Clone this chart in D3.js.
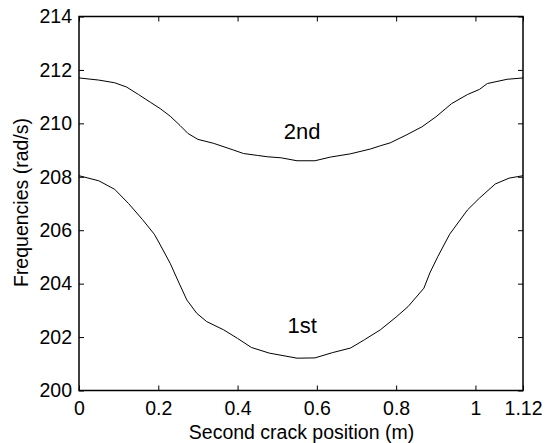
<!DOCTYPE html>
<html>
<head>
<meta charset="utf-8">
<script src="https://cdn.jsdelivr.net/npm/d3@7"></script>
<style>
  body { margin: 0; background: #fff; }
  svg { display: block; font-family: Arial, "Liberation Sans", sans-serif; }
</style>
</head>
<body>
<script>
// data
const xTicks = [0, 0.2, 0.4, 0.6, 0.8, 1, 1.12];
const yTicks = [200, 202, 204, 206, 208, 210, 212, 214];

// 2nd natural frequency vs crack position
const pos2nd = [0, 0.05, 0.09, 0.12, 0.15, 0.18, 0.205, 0.23, 0.255, 0.275, 0.30, 0.34, 0.39, 0.415, 0.45, 0.475, 0.51, 0.55, 0.595, 0.635, 0.685, 0.735, 0.76, 0.785, 0.825, 0.865, 0.90, 0.94, 0.98, 1.01, 1.03, 1.08, 1.12];
const freq2nd = [211.70, 211.62, 211.52, 211.36, 211.08, 210.79, 210.55, 210.27, 209.92, 209.62, 209.40, 209.25, 209.00, 208.87, 208.80, 208.75, 208.71, 208.60, 208.60, 208.74, 208.86, 209.04, 209.16, 209.27, 209.56, 209.87, 210.24, 210.74, 211.08, 211.27, 211.49, 211.65, 211.70];

// 1st natural frequency vs crack position
const pos1st = [0, 0.05, 0.09, 0.125, 0.16, 0.19, 0.205, 0.23, 0.25, 0.272, 0.297, 0.322, 0.365, 0.40, 0.435, 0.48, 0.55, 0.595, 0.64, 0.685, 0.72, 0.76, 0.80, 0.83, 0.87, 0.885, 0.905, 0.935, 0.98, 1.01, 1.05, 1.085, 1.12];
const freq1st = [208.04, 207.85, 207.53, 207.00, 206.40, 205.85, 205.45, 204.76, 204.10, 203.39, 202.89, 202.58, 202.27, 201.95, 201.61, 201.40, 201.21, 201.22, 201.42, 201.59, 201.90, 202.27, 202.75, 203.14, 203.83, 204.40, 205.01, 205.85, 206.76, 207.20, 207.73, 207.95, 208.04];

const curveLabels = [
  { text: "2nd", x: 0.563, y: 209.41 },
  { text: "1st", x: 0.563, y: 202.16 }
];

const W = 546, H = 443;
const margin = { top: 16.5, right: 23, bottom: 52.5, left: 79 };
const iw = W - margin.left - margin.right;
const ih = H - margin.top - margin.bottom;

const svg = d3.select("body").append("svg")
  .attr("width", W)
  .attr("height", H);

const g = svg.append("g")
  .attr("transform", `translate(${margin.left},${margin.top})`);

const x = d3.scaleLinear().domain([0, 1.12]).range([0, iw]);
const y = d3.scaleLinear().domain([200, 214]).range([ih, 0]);

const fontSize = 19.5;

// axes, ticks pointing inward like matlab
const xAxis = d3.axisBottom(x).tickValues(xTicks).tickSize(-5).tickPadding(11)
  .tickFormat(d => d3.format("~g")(d));
const yAxis = d3.axisLeft(y).tickValues(yTicks).tickSize(-5).tickPadding(7)
  .tickFormat(d3.format("d"));

const gx = g.append("g").attr("transform", `translate(0,${ih})`).call(xAxis);
const gy = g.append("g").call(yAxis);

// top and right mirror ticks
g.append("g").call(d3.axisTop(x).tickValues(xTicks).tickSize(-5).tickFormat(""));
g.append("g").attr("transform", `translate(${iw},0)`)
  .call(d3.axisRight(y).tickValues(yTicks).tickSize(-5).tickFormat(""));

g.selectAll(".domain").remove();
g.selectAll(".tick line").attr("stroke", "#000").attr("stroke-width", 1);
[gx, gy].forEach(a => a.selectAll("text")
  .attr("font-size", fontSize)
  .attr("font-family", "Arial, 'Liberation Sans', sans-serif")
  .attr("fill", "#000"));
gx.selectAll("text").attr("dy", "0.71em");

// frame
g.append("rect")
  .attr("width", iw)
  .attr("height", ih)
  .attr("fill", "none")
  .attr("stroke", "#000")
  .attr("stroke-width", 1.5);

// curves
const line = d3.line()
  .x(d => x(d[0]))
  .y(d => y(d[1]));

const series = [d3.zip(pos2nd, freq2nd), d3.zip(pos1st, freq1st)];

g.selectAll("path.curve")
  .data(series)
  .enter()
  .append("path")
  .attr("class", "curve")
  .attr("fill", "none")
  .attr("stroke", "#000")
  .attr("stroke-width", 1)
  .attr("d", line);

g.selectAll("text.curve-label")
  .data(curveLabels)
  .enter()
  .append("text")
  .attr("class", "curve-label")
  .attr("x", d => x(d.x))
  .attr("y", d => y(d.y))
  .attr("text-anchor", "middle")
  .attr("font-size", 22)
  .text(d => d.text);

// axis titles
svg.append("text")
  .attr("x", margin.left + iw / 2 + 0.5)
  .attr("y", 439)
  .attr("text-anchor", "middle")
  .attr("font-size", fontSize)
  .text("Second crack position (m)");

svg.append("text")
  .attr("transform", `translate(28,202.5) rotate(-90)`)
  .attr("text-anchor", "middle")
  .attr("font-size", fontSize)
  .text("Frequencies (rad/s)");
</script>
</body>
</html>
